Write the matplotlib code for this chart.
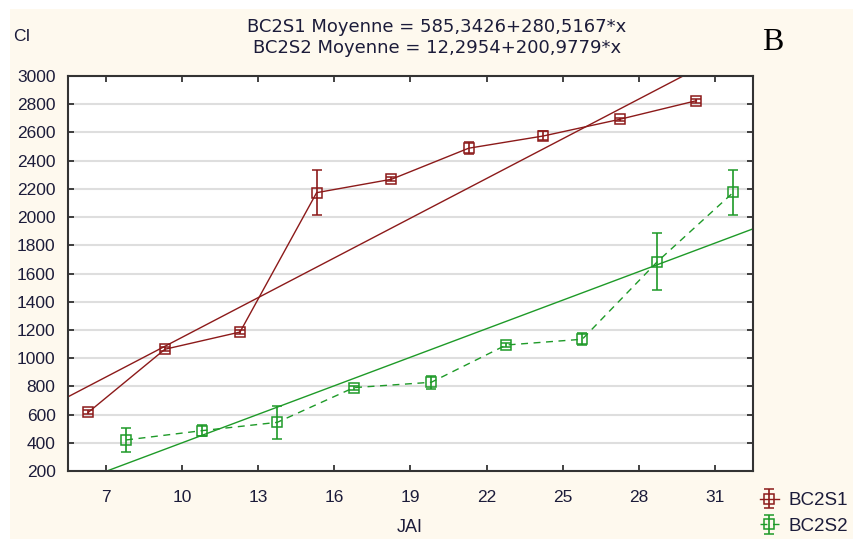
import numpy as np
import matplotlib.pyplot as plt
from matplotlib.patches import Rectangle

plt.rcParams['font.family'] = ['Liberation Sans', 'DejaVu Sans']

#--- means and error half-widths
jai_s1 = [6.30, 9.32, 12.28, 15.30, 18.25, 21.29, 24.24, 27.25, 30.27]
ci_s1 = [616, 1063, 1185, 2173, 2268, 2488, 2575, 2693, 2825]
err_s1 = [15, 15, 15, 160, 15, 42, 32, 12, 15]

jai_s2 = [7.79, 10.78, 13.75, 16.77, 19.82, 22.77, 25.77, 28.73, 31.73]
ci_s2 = [420, 486, 545, 791, 829, 1093, 1134, 1684, 2176]
err_s2 = [85, 38, 115, 15, 45, 15, 43, 203, 160]

#--- regression lines (intercept, slope per JAI) as drawn
fit_s1 = (210, 93.8)
fit_s2 = (-274, 67.4)

eq_s1 = "BC2S1 Moyenne = 585,3426+280,5167*x"
eq_s2 = "BC2S2 Moyenne = 12,2954+200,9779*x"

x_ticks = [7, 10, 13, 16, 19, 22, 25, 28, 31]
y_ticks = list(range(200, 3001, 200))

red = '#8c1a1a'
green = '#1e9a28'
txt = '#1c1c3a'

fig = plt.figure(figsize=(8.54, 5.39), dpi=100, facecolor='white')
fig.patches.append(Rectangle((10/854, 0), 1, 1 - 9/539, transform=fig.transFigure,
                             facecolor='#fef9ee', edgecolor='none', zorder=-10))
ax = fig.add_axes([68/854, 1 - 471/539, (753 - 68)/854, (471 - 76)/539])
ax.set_facecolor('white')

xs = np.array([5.5, 32.5])
ax.plot(xs, fit_s1[0] + fit_s1[1]*xs, color=red, lw=1.0, zorder=2)
ax.plot(xs, fit_s2[0] + fit_s2[1]*xs, color=green, lw=1.0, zorder=2)

ax.errorbar(jai_s1, ci_s1, yerr=err_s1, color=red, lw=1.0, elinewidth=1.2,
            capsize=3.5, capthick=1.2, marker='s', ms=6.5, mfc='none', mec=red,
            mew=1.1, label='BC2S1', zorder=3)
ax.errorbar(jai_s2, ci_s2, yerr=err_s2, color=green, lw=1.0, ls=(0, (5, 4)),
            elinewidth=1.2, capsize=3.5, capthick=1.2, marker='s', ms=6.5,
            mfc='none', mec=green, mew=1.1, label='BC2S2', zorder=3)

ax.set_xlim(5.5, 32.5)
ax.set_ylim(200, 3000)
ax.set_xticks(x_ticks)
ax.set_yticks(y_ticks)
ax.grid(axis='y', color='#dedede', lw=1.5, zorder=0)
ax.set_axisbelow(True)
ax.tick_params(direction='in', length=4, width=1.2, top=True, right=True,
               labelsize=12.5, labelcolor=txt, color='#222222')
ax.tick_params(axis='x', pad=14)
ax.tick_params(axis='y', pad=9)
for s in ax.spines.values():
    s.set_color('#333333')
    s.set_linewidth(1.5)

fig.text(437/854, 1 - 27/539, eq_s1, ha='center', va='center', fontsize=13,
         family='DejaVu Sans', color=txt)
fig.text(437/854, 1 - 48/539, eq_s2, ha='center', va='center', fontsize=13,
         family='DejaVu Sans', color=txt)
fig.text(22/854, 1 - 36/539, 'CI', ha='center', va='center', fontsize=12.5, color=txt)
fig.text(410/854, 1 - 528/539, 'JAI', ha='center', va='center', fontsize=13, color=txt)
fig.text(773/854, 1 - 43/539, 'B', ha='center', va='center', fontsize=23,
         family='Liberation Serif', color='black')

fig.legend(loc='upper left', bbox_to_anchor=(760/854, 1 - 492/539), frameon=False,
           fontsize=13.5, handlelength=1.0, handletextpad=0.5, labelspacing=0.45,
           borderaxespad=0, borderpad=0, labelcolor=txt)

plt.savefig('out.png', dpi=100, facecolor=fig.get_facecolor())
